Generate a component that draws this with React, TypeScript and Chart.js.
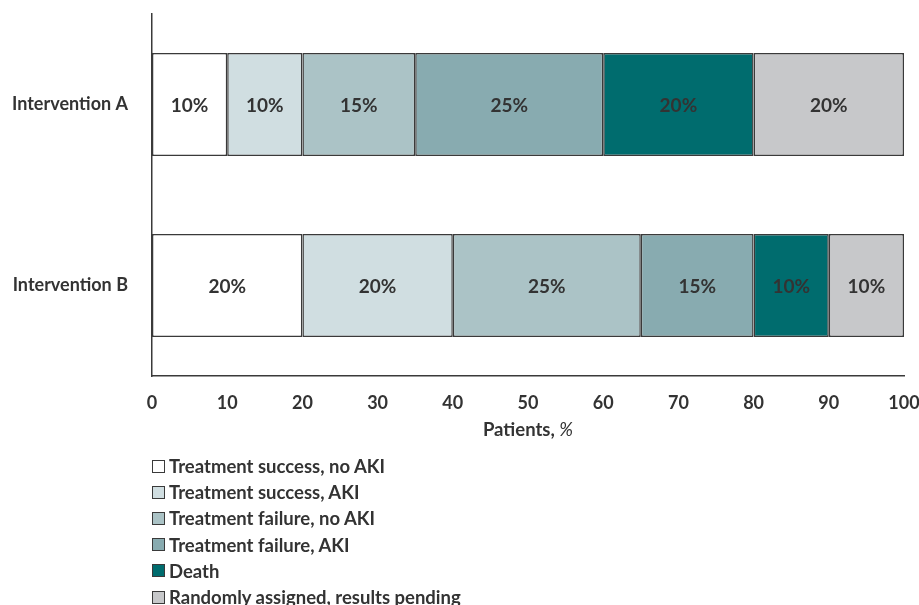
import React, { useEffect, useRef } from "react";
import { Chart, registerables } from "chart.js";

Chart.register(...registerables);

// Outcome breakdown per intervention arm, in percent of patients
const categories = ["Intervention A", "Intervention B"];
const seriesNames = [
  "Treatment success, no AKI",
  "Treatment success, AKI",
  "Treatment failure, no AKI",
  "Treatment failure, AKI",
  "Death",
  "Randomly assigned, results pending",
];
const successNoAki = [10, 20];
const successAki = [10, 20];
const failureNoAki = [15, 25];
const failureAki = [25, 15];
const death = [20, 10];
const pending = [20, 10];
const seriesColors = ["#ffffff", "#d0dee1", "#abc3c6", "#88abb0", "#006c6e", "#c7c8ca"];
const xTickValues = [0, 10, 20, 30, 40, 50, 60, 70, 80, 90, 100];

const seriesValues = [successNoAki, successAki, failureNoAki, failureAki, death, pending];

const FONT = "Lato, 'Open Sans', 'DejaVu Sans', sans-serif";
const TEXT = "#333333";
const LINE = "#3a3a3a";

// Writes "NN%" in the middle of every bar segment
const valueLabels = {
  id: "valueLabels",
  afterDatasetsDraw(chart: any) {
    const ctx = chart.ctx;
    ctx.save();
    ctx.font = `bold 19px ${FONT}`;
    ctx.fillStyle = TEXT;
    ctx.textAlign = "center";
    ctx.textBaseline = "middle";
    chart.data.datasets.forEach((ds: any, di: number) => {
      const meta = chart.getDatasetMeta(di);
      meta.data.forEach((bar: any, i: number) => {
        const v = ds.data[i];
        const cx = (bar.x + bar.base) / 2;
        ctx.fillText(`${v}%`, cx, bar.y + 1);
      });
    });
    ctx.restore();
  },
};

// Axis title with an italic percent sign
const axisTitle = {
  id: "axisTitle",
  afterDraw(chart: any) {
    const ctx = chart.ctx;
    const area = chart.chartArea;
    const main = "Patients, ";
    const unit = "%";
    ctx.save();
    ctx.fillStyle = TEXT;
    ctx.textBaseline = "middle";
    ctx.textAlign = "left";
    ctx.font = `bold 18.5px ${FONT}`;
    const w1 = ctx.measureText(main).width;
    ctx.font = `italic 18.5px ${FONT}`;
    const w2 = ctx.measureText(unit).width;
    const x0 = (area.left + area.right) / 2 - (w1 + w2) / 2;
    const y = 430;
    ctx.font = `bold 18.5px ${FONT}`;
    ctx.fillText(main, x0, y);
    ctx.font = `italic 18.5px ${FONT}`;
    ctx.fillText(unit, x0 + w1, y);
    ctx.restore();
  },
};

export default function App() {
  const canvasRef = useRef<HTMLCanvasElement | null>(null);

  useEffect(() => {
    if (!canvasRef.current) return;
    const chart = new Chart(canvasRef.current, {
      type: "bar",
      data: {
        labels: categories,
        datasets: seriesNames.map((name, i) => ({
          label: name,
          data: seriesValues[i],
          backgroundColor: seriesColors[i],
          borderColor: LINE,
          borderWidth: 1.5,
          borderSkipped: false,
          categoryPercentage: 1,
          barPercentage: 0.57,
        })),
      },
      options: {
        indexAxis: "y",
        animation: false,
        responsive: false,
        devicePixelRatio: 1,
        layout: { padding: { left: 0, right: 15, top: 14, bottom: 149 } },
        plugins: {
          legend: { display: false },
          tooltip: { enabled: false },
          title: { display: false },
        },
        scales: {
          x: {
            stacked: true,
            min: 0,
            max: 100,
            afterFit(scale: any) {
              scale.height = 80;
              scale.paddingLeft = 0;
              scale.paddingRight = 0;
            },
            afterBuildTicks(scale: any) {
              scale.ticks = xTickValues.map((v) => ({ value: v }));
            },
            grid: { display: false, drawTicks: false },
            border: { display: true, color: LINE, width: 1.5 },
            ticks: {
              padding: 16,
              color: TEXT,
              font: { family: FONT, size: 18, weight: "bold" },
            },
          },
          y: {
            stacked: true,
            afterFit(scale: any) {
              scale.width = 152;
              scale.paddingTop = 0;
              scale.paddingBottom = 0;
            },
            grid: { display: false, drawTicks: false },
            border: { display: true, color: LINE, width: 1.5 },
            ticks: {
              padding: 24,
              color: TEXT,
              font: { family: FONT, size: 18, weight: "bold" },
            },
          },
        },
      },
      plugins: [valueLabels, axisTitle],
    });
    return () => chart.destroy();
  }, []);

  return (
    <div style={{ position: "absolute", left: 0, top: 0, width: 919, height: 605, background: "#fff" }}>
      <canvas ref={canvasRef} width={919} height={605} style={{ display: "block" }} />
      <div
        style={{
          position: "absolute",
          left: 152,
          top: 453,
          fontFamily: FONT,
          fontWeight: "bold",
          fontSize: 18.5,
          color: TEXT,
        }}
      >
        {seriesNames.map((name, i) => (
          <div key={name} style={{ display: "flex", alignItems: "center", height: 26.2, whiteSpace: "nowrap" }}>
            <span
              style={{
                display: "inline-block",
                flex: "none",
                width: 11,
                height: 11,
                border: `1px solid ${LINE}`,
                background: seriesColors[i],
                marginRight: 4,
              }}
            />
            <span>{name}</span>
          </div>
        ))}
      </div>
    </div>
  );
}
